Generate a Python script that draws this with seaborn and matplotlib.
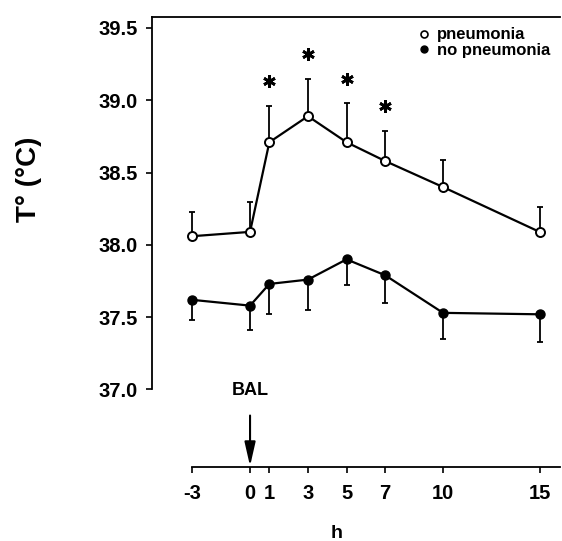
import matplotlib
matplotlib.use("Agg")
import matplotlib.pyplot as plt
import seaborn as sns
import pandas as pd
from matplotlib.lines import Line2D

hours = [-3, 0, 1, 3, 5, 7, 10, 15]
pneumonia = [38.06, 38.09, 38.71, 38.89, 38.71, 38.58, 38.40, 38.09]
pneumonia_se = [0.17, 0.21, 0.25, 0.26, 0.27, 0.21, 0.19, 0.17]
no_pneumonia = [37.62, 37.58, 37.73, 37.76, 37.90, 37.79, 37.53, 37.52]
no_pneumonia_se = [0.14, 0.17, 0.21, 0.21, 0.18, 0.19, 0.18, 0.19]
star_hours = [1, 3, 5, 7]
star_y = [39.13, 39.32, 39.15, 38.96]
y_ticks = [37.0, 37.5, 38.0, 38.5, 39.0, 39.5]
x_ticks = [-3, 0, 1, 3, 5, 7, 10, 15]

sns.set_style("ticks")
plt.rcParams['font.family'] = ['Liberation Sans', 'DejaVu Sans']
plt.rcParams['font.weight'] = 'bold'
for k in ['text.color', 'axes.labelcolor', 'xtick.color', 'ytick.color',
          'axes.edgecolor']:
    plt.rcParams[k] = 'black'

fig = plt.figure(figsize=(5.62, 5.41), dpi=100)
ax = fig.add_axes([152/562, 1-467/541, 408/562, 450/541])

df = pd.DataFrame({"h": hours + hours,
                   "T": pneumonia + no_pneumonia,
                   "group": ["pneumonia"]*len(hours) + ["no pneumonia"]*len(hours)})

# error bars (one-sided)
ax.errorbar(hours, pneumonia, yerr=[[0]*len(hours), pneumonia_se], fmt='none',
            ecolor='black', elinewidth=1.3, capsize=2.5, capthick=1.3, zorder=1)
ax.errorbar(hours, no_pneumonia, yerr=[no_pneumonia_se, [0]*len(hours)], fmt='none',
            ecolor='black', elinewidth=1.3, capsize=2.5, capthick=1.3, zorder=1)

sns.lineplot(data=df[df.group == "pneumonia"], x="h", y="T", ax=ax, color='black',
             lw=1.6, marker='o', markersize=6.5, markerfacecolor='white',
             markeredgecolor='black', markeredgewidth=1.4, zorder=3, legend=False)
sns.lineplot(data=df[df.group == "no pneumonia"], x="h", y="T", ax=ax, color='black',
             lw=1.6, marker='o', markersize=6.5, markerfacecolor='black',
             markeredgecolor='black', markeredgewidth=1.0, zorder=3, legend=False)

ax.plot(star_hours, star_y, linestyle='none', marker=(6, 2, 0), markersize=9,
        markeredgewidth=2.0, color='black')

ax.set_xlim(-5.08, 16.06)
ax.set_ylim(36.464, 39.576)
ax.set_xticks(x_ticks)
ax.set_xticklabels([str(v) for v in x_ticks])
ax.set_yticks(y_ticks)
ax.set_yticklabels([f"{v:.1f}" for v in y_ticks])

for s in ['left', 'bottom', 'top']:
    ax.spines[s].set_linewidth(1.3)
    ax.spines[s].set_color('black')
ax.spines['right'].set_visible(False)
ax.spines['left'].set_bounds(37.0, 39.576)
ax.spines['bottom'].set_bounds(-3, 16.06)

ax.tick_params(axis='both', direction='out', length=4, width=1.2, colors='black',
               labelsize=14.5)
ax.tick_params(axis='y', pad=6)
ax.tick_params(axis='x', pad=8)
for lab in ax.get_xticklabels() + ax.get_yticklabels():
    lab.set_fontweight('bold')

ax.set_ylabel("T° (°C)", fontsize=20, fontweight='bold', va='center')
ax.yaxis.set_label_coords(-0.301, 0.64)
ax.set_xlabel("h", fontsize=14, fontweight='bold', va='center')
ax.xaxis.set_label_coords(0.453, -0.147)

# BAL annotation
ax.annotate("", xy=(0, 36.47), xytext=(0, 36.82),
            arrowprops=dict(arrowstyle='-|>,head_length=1.45,head_width=0.33',
                            color='black', lw=1.5, shrinkA=0, shrinkB=0))
ax.text(0, 36.99, "BAL", ha='center', va='center', fontsize=13, fontweight='bold')

handles = [Line2D([], [], linestyle='none', marker='o', markersize=5,
                  markerfacecolor='white', markeredgecolor='black', markeredgewidth=1.2),
           Line2D([], [], linestyle='none', marker='o', markersize=5,
                  markerfacecolor='black', markeredgecolor='black')]
leg = ax.legend(handles, ["pneumonia", "no pneumonia"], loc='upper right',
                bbox_to_anchor=(0.975, 0.977), frameon=False, borderpad=0,
                borderaxespad=0, handlelength=0.5, handletextpad=0.5,
                labelspacing=0.05, prop={'weight': 'bold', 'size': 12})

fig.savefig("out.png", dpi=100)
